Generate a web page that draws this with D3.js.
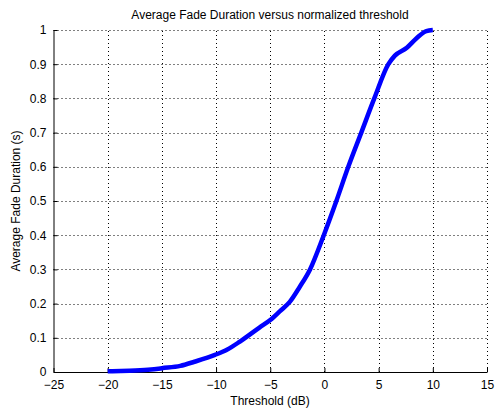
<!DOCTYPE html>
<html>
<head>
<meta charset="utf-8">
<script src="https://cdn.jsdelivr.net/npm/d3@7"></script>
<style>
  body { margin: 0; background: #fff; }
  text { font-family: "Liberation Sans", Arial, sans-serif; }
</style>
</head>
<body>
<script>
// threshold (dB) and average fade duration (s)
const threshold = [-20, -18, -16, -15, -13.3, -12, -10.1, -9, -7.8, -6, -5, -4.1, -3.2, -2.3, -1.33, -0.06, 1.1, 2.2, 3.4, 4.6, 5.9, 6.5, 7.6, 8.5, 9.4, 10];
const duration  = [0.002, 0.004, 0.007, 0.011, 0.018, 0.03, 0.05, 0.065, 0.089, 0.13, 0.152, 0.178, 0.205, 0.248, 0.30, 0.40, 0.50, 0.60, 0.70, 0.80, 0.90, 0.925, 0.948, 0.976, 0.997, 1.0];
const xTicks = [-25, -20, -15, -10, -5, 0, 5, 10, 15];
const yTicks = [0, 0.1, 0.2, 0.3, 0.4, 0.5, 0.6, 0.7, 0.8, 0.9, 1];

const w = 496, h = 413;
const margin = {top: 30, right: 9, bottom: 41, left: 53.5};

const svg = d3.select("body").append("svg")
    .attr("width", w)
    .attr("height", h);

const x = d3.scaleLinear().domain([-25, 15]).range([margin.left, w - margin.right]);
const y = d3.scaleLinear().domain([0, 1]).range([h - margin.bottom, margin.top]);

// grid
svg.append("g")
    .selectAll("line")
    .data(xTicks.slice(1))
    .enter().append("line")
    .attr("x1", d => Math.round(x(d)) + 0.5).attr("x2", d => Math.round(x(d)) + 0.5)
    .attr("y1", y(0)).attr("y2", y(1))
    .attr("stroke", "#000").attr("stroke-width", 1).attr("stroke-dasharray", "1,3");

svg.append("g")
    .selectAll("line")
    .data(yTicks.slice(1))
    .enter().append("line")
    .attr("y1", d => Math.round(y(d)) + 0.5).attr("y2", d => Math.round(y(d)) + 0.5)
    .attr("x1", x(-25)).attr("x2", x(15))
    .attr("stroke", "#000").attr("stroke-width", 1).attr("stroke-dasharray", "1,3");

// axes with inward ticks
const xAxis = d3.axisBottom(x).tickValues(xTicks).tickSize(-4).tickPadding(8).tickSizeOuter(0);
const yAxis = d3.axisLeft(y).tickValues(yTicks).tickSize(-4).tickPadding(7).tickSizeOuter(0)
    .tickFormat(d => d === 0 || d === 1 ? d : d3.format(".1f")(d));

svg.append("g")
    .attr("transform", `translate(0,${y(0)})`)
    .call(xAxis)
    .call(g => g.selectAll("text").attr("font-size", 12).attr("fill", "#000"))
    .call(g => g.select(".domain").attr("stroke", "#000"));

svg.append("g")
    .attr("transform", `translate(${x(-25)},0)`)
    .call(yAxis)
    .call(g => g.selectAll("text").attr("font-size", 12).attr("fill", "#000"))
    .call(g => g.select(".domain").attr("stroke", "#000"));

// curve
const line = d3.line()
    .x((d, i) => x(threshold[i]))
    .y(d => y(d))
    .curve(d3.curveMonotoneX);

svg.append("path")
    .datum(duration)
    .attr("fill", "none")
    .attr("stroke", "#0000ff")
    .attr("stroke-width", 4.5)
    .attr("stroke-linejoin", "round")
    .attr("d", line);

// labels
svg.append("text")
    .attr("x", 270).attr("y", 19)
    .attr("text-anchor", "middle")
    .attr("font-size", 12)
    .text("Average Fade Duration versus normalized threshold");

svg.append("text")
    .attr("x", 270).attr("y", 405)
    .attr("text-anchor", "middle")
    .attr("font-size", 12)
    .text("Threshold (dB)");

svg.append("text")
    .attr("transform", `translate(20,${(y(0) + y(1)) / 2}) rotate(-90)`)
    .attr("text-anchor", "middle")
    .attr("font-size", 12)
    .text("Average Fade Duration (s)");
</script>
</body>
</html>
